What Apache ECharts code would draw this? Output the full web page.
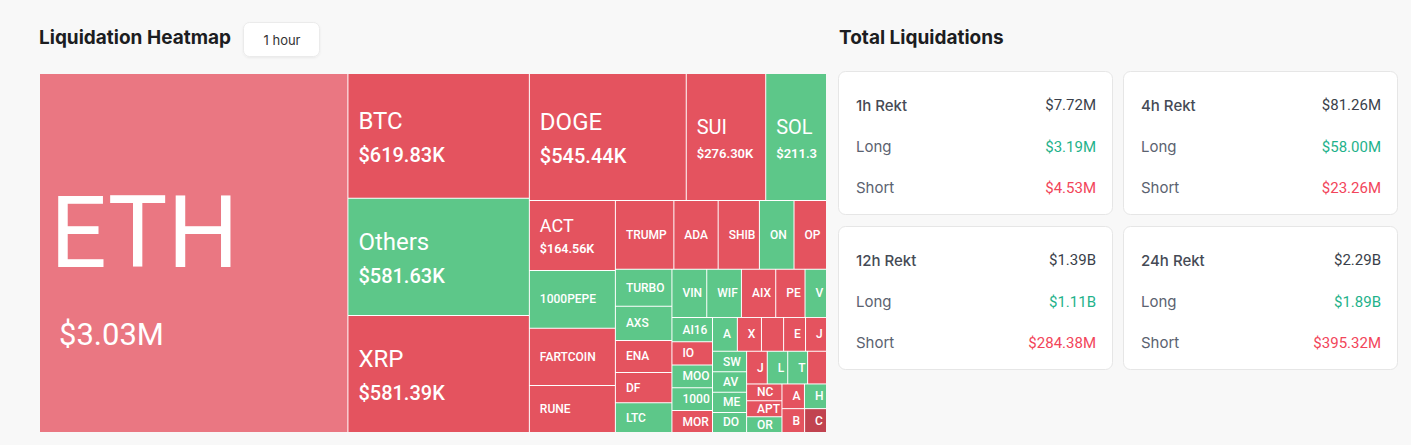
<!DOCTYPE html>
<html>
<head>
<meta charset="utf-8">
<script src="https://cdn.jsdelivr.net/npm/echarts@6/dist/echarts.min.js"></script>
<style>
html,body{margin:0;padding:0;background:#f8f8f8;}
#c{width:1411px;height:445px;}
</style>
</head>
<body>
<div id="c"></div>
<script>
// ---- Data (liquidations in thousands of USD, 1 hour window) ----
const coins = ['ETH','BTC','Others','XRP','DOGE','SUI','SOL','ACT','1000PEPE','FARTCOIN','RUNE','TRUMP','ADA','SHIB','ONDO','OP','TURBO','AXS','ENA','DF','LTC','VINE','WIF','AIXBT','PERP','VVV','AI16Z','IO','MOODENG','1000FLOKI','MORPHO','AR','XCN','MOVE','EOS','JELLYJELLY','SWARMS','AVAX','MEW','DOT','JUP','LINK','TON','PNUT','NC','APT','ORDI','AAVE','HBAR','BNB','CRV'];
const amounts = [3030,619.83,581.63,581.39,545.44,276.30,211.33,164.56,136,135,110.5,110,83.3,77.6,65.1,61.1,57.3,52.7,49.8,46.5,46.2,45.9,45.7,45.2,38.6,28.3,26.9,25.8,25.5,25.2,24.4,23.0,22.3,20.5,20.3,19.4,19.2,19.0,18.9,18.7,18.5,18.3,17.8,16.9,16.3,15.4,15.3,15.2,14.9,14.8,14.3];
const sides = ['short','short','long','short','short','short','long','short','long','short','short','short','short','short','long','short','long','long','short','short','long','long','long','short','short','long','long','short','long','long','short','long','short','short','short','short','long','long','long','long','short','long','long','short','short','short','long','short','long','short','short'];
const highlighted = ['ETH'];
const dimmed = ['CRV'];

const periods = ['1h Rekt','4h Rekt','12h Rekt','24h Rekt'];
const totals = ['$7.72M','$81.26M','$1.39B','$2.29B'];
const longs = ['$3.19M','$58.00M','$1.11B','$1.89B'];
const shorts = ['$4.53M','$23.26M','$284.38M','$395.32M'];

// ---- Styles ----
const RED = '#E4535F', GREEN = '#5DC789', LIGHT_RED = '#EA7782', DARK_RED = '#C14350';
function colorFor(i) {
  if (highlighted.includes(coins[i])) return LIGHT_RED;
  if (dimmed.includes(coins[i])) return DARK_RED;
  return sides[i] === 'long' ? GREEN : RED;
}
function fmt(v) {
  return v >= 1000 ? '$' + (v / 1000).toFixed(2) + 'M' : '$' + v.toFixed(2) + 'K';
}
function tier(v) {
  if (v >= 1000) return 0;
  if (v >= 500) return 1;
  if (v >= 200) return 2;
  if (v >= 150) return 3;
  return 4;
}
// text block height of each label tier (sum of rich line heights)
const blockH = [204, 68, 53, 46, 14];

const treeData = coins.map((c, i) => ({ name: c, value: amounts[i], itemStyle: { color: colorFor(i) } }));

const chart = echarts.init(document.getElementById('c'), null, { renderer: 'svg', width: 1411, height: 445 });

const graphics = [];
graphics.push({ type: 'text', left: 39, top: 28, style: { text: 'Liquidation Heatmap', font: '700 19px Inter', fill: '#1c1d21' } });
graphics.push({ type: 'rect', shape: { x: 243.5, y: 22.5, width: 76, height: 34, r: 6 }, style: { fill: '#fff', stroke: '#ebebeb', lineWidth: 1, shadowBlur: 2, shadowOffsetY: 1, shadowColor: 'rgba(0,0,0,0.06)' } });
graphics.push({ type: 'text', x: 282, y: 39.5, style: { text: '1 hour', font: '400 13px Inter', fill: '#333', align: 'center', verticalAlign: 'middle', textAlign: 'center', textVerticalAlign: 'middle' } });
graphics.push({ type: 'text', left: 839, top: 28, style: { text: 'Total Liquidations', font: '700 19px Inter', fill: '#1c1d21' } });

const cardX = [838.5, 1123.5], cardY = [71.5, 226.5];
periods.forEach((p, k) => {
  const x = cardX[k % 2], y = cardY[Math.floor(k / 2)];
  graphics.push({ type: 'rect', shape: { x: x, y: y, width: 274, height: 143, r: 7 }, style: { fill: '#fff', stroke: '#e6e6e6', lineWidth: 1 } });
  const rows = [
    [p, totals[k], '#454a55', '500 15px Inter', '#3a3f4a'],
    ['Long', longs[k], '#5b6270', '400 15px Inter', '#1fb28b'],
    ['Short', shorts[k], '#5b6270', '400 15px Inter', '#f2455a']
  ];
  const dy = [33.5, 75, 116];
  rows.forEach((r, j) => {
    graphics.push({ type: 'text', x: x + 17.5, y: y + dy[j], style: { text: r[0], font: r[3], fill: r[2], verticalAlign: 'middle', textVerticalAlign: 'middle' } });
    graphics.push({ type: 'text', x: x + 257.5, y: y + dy[j], style: { text: r[1], font: '400 15px Roboto', fill: r[4], align: 'right', textAlign: 'right', verticalAlign: 'middle', textVerticalAlign: 'middle' } });
  });
});

function nameFromLabel(text) {
  if (!text) return '';
  const m = /^\{\w+\|([^}]*)\}/.exec(text);
  return m ? m[1] : text.split('\n')[0];
}

chart.setOption({
  backgroundColor: '#f8f8f8',
  animation: false,
  graphic: graphics,
  series: [{
    type: 'treemap',
    left: 40, top: 74, width: 786, height: 358,
    roam: false, nodeClick: false,
    breadcrumb: { show: false },
    levels: [
      { itemStyle: { borderWidth: 0, borderColor: '#fff', gapWidth: 1 } },
      { itemStyle: { borderWidth: 0, gapWidth: 0 } }
    ],
    label: {
      show: true,
      position: 'insideTopLeft',
      padding: [0, 0, 0, 10],
      color: '#fff',
      fontFamily: 'Roboto',
      overflow: 'truncate',
      ellipsis: '',
      formatter: function (p) {
        const v = p.value;
        const t = tier(v);
        if (t < 4) return '{n' + t + '|' + p.name + '}\n{v' + t + '|' + fmt(v) + '}';
        return '{s|' + p.name + '}';
      },
      rich: {
        n0: { fontSize: 100, lineHeight: 162, fontFamily: 'Roboto', color: '#fff' },
        v0: { fontSize: 31, lineHeight: 42, fontFamily: 'Roboto', color: '#fff', padding: [0, 0, 0, 9] },
        n1: { fontSize: 24, lineHeight: 38, fontFamily: 'Roboto', color: '#fff' },
        v1: { fontSize: 20, lineHeight: 30, fontWeight: 500, fontFamily: 'Roboto', color: '#fff' },
        n2: { fontSize: 20, lineHeight: 32, fontFamily: 'Roboto', color: '#fff' },
        v2: { fontSize: 13, lineHeight: 21, fontWeight: 600, fontFamily: 'Roboto', color: '#fff' },
        n3: { fontSize: 18, lineHeight: 26, fontFamily: 'Roboto', color: '#fff' },
        v3: { fontSize: 12.5, lineHeight: 20, fontWeight: 600, fontFamily: 'Roboto', color: '#fff' },
        s: { fontSize: 12, lineHeight: 14, fontWeight: 500, fontFamily: 'Roboto', color: '#fff' }
      }
    },
    labelLayout: function (params) {
      const r = params.rect;
      if (!r) return {};
      const idx = coins.indexOf(nameFromLabel(params.text));
      const t = idx >= 0 ? tier(amounts[idx]) : 4;
      return { dy: Math.max(0, (r.height - blockH[t]) / 2) };
    },
    data: treeData
  }]
});
</script>
</body>
</html>
